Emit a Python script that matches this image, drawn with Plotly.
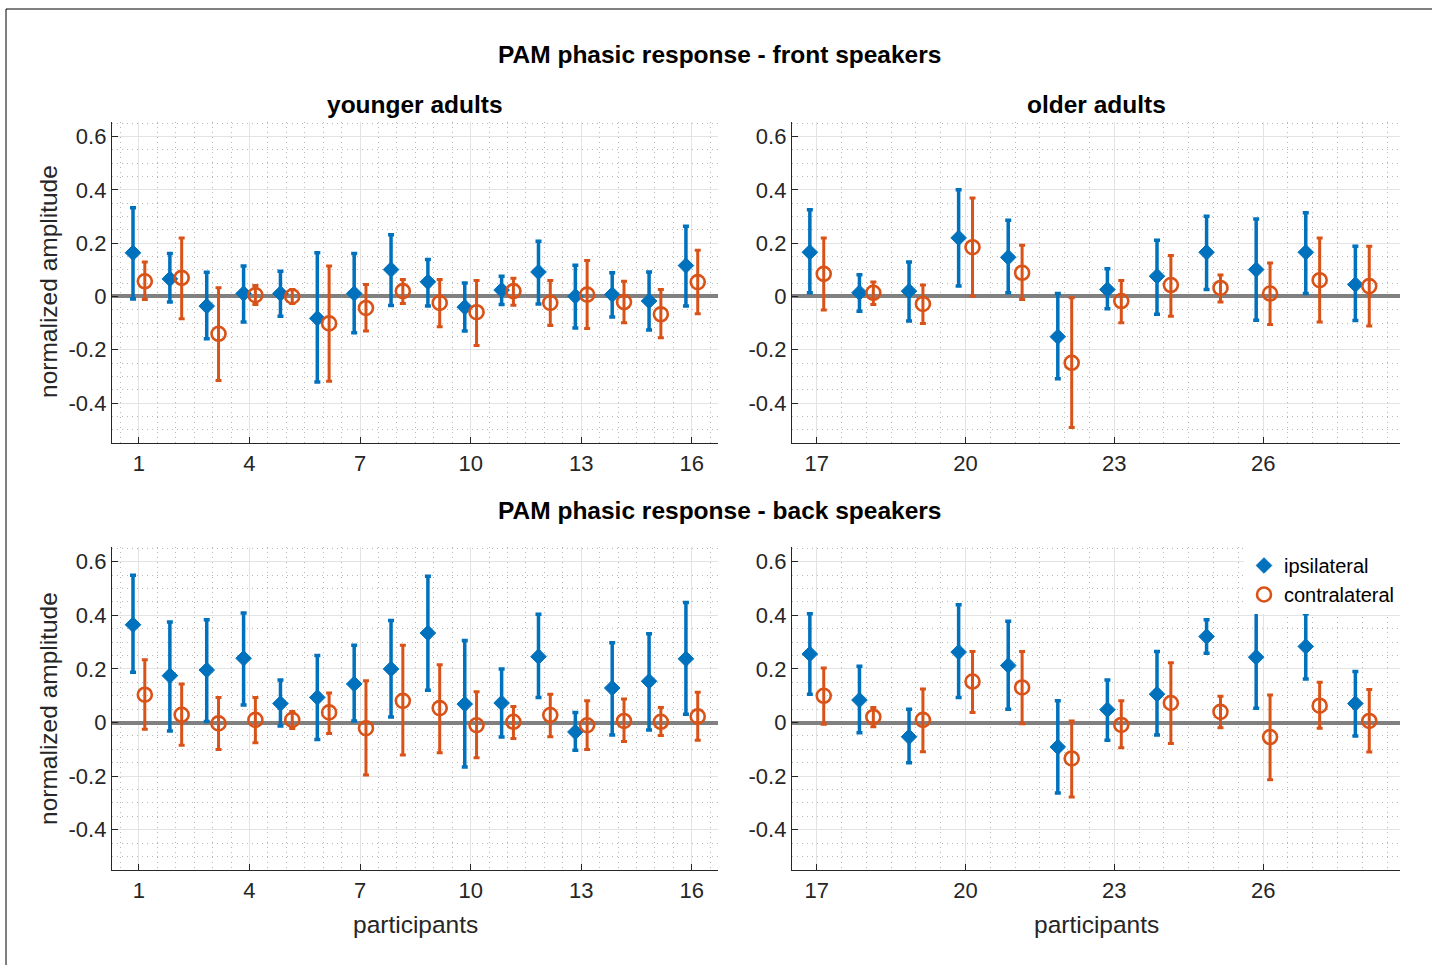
import plotly.graph_objects as go
import numpy as np

# ---------------- data ----------------
young_ids = list(range(1, 17))
old_ids = list(range(17, 29))

front_young_ipsi = [0.164, 0.066, -0.036, 0.011, 0.011, -0.082, 0.011, 0.101, 0.055, -0.040, 0.024, 0.092, 0.001, 0.007, -0.017, 0.116]
front_young_ipsi_hi = [0.333, 0.161, 0.091, 0.114, 0.095, 0.164, 0.161, 0.232, 0.139, 0.051, 0.076, 0.207, 0.117, 0.089, 0.092, 0.264]
front_young_ipsi_lo = [-0.009, -0.021, -0.159, -0.096, -0.074, -0.321, -0.136, -0.034, -0.036, -0.130, -0.030, -0.028, -0.118, -0.077, -0.126, -0.036]
front_young_contra = [0.057, 0.070, -0.140, 0.005, 0.000, -0.101, -0.043, 0.020, -0.024, -0.059, 0.020, -0.024, 0.007, -0.021, -0.067, 0.054]
front_young_contra_hi = [0.129, 0.220, 0.033, 0.041, 0.026, 0.114, 0.045, 0.064, 0.064, 0.060, 0.068, 0.060, 0.135, 0.057, 0.026, 0.174]
front_young_contra_lo = [-0.011, -0.084, -0.315, -0.030, -0.026, -0.318, -0.130, -0.026, -0.114, -0.184, -0.033, -0.109, -0.120, -0.099, -0.155, -0.065]

front_old_ipsi = [0.166, 0.014, 0.020, 0.220, 0.147, -0.151, 0.026, 0.076, 0.166, 0.101, 0.166, 0.045]
front_old_ipsi_hi = [0.326, 0.082, 0.129, 0.401, 0.286, 0.011, 0.104, 0.211, 0.301, 0.291, 0.314, 0.189]
front_old_ipsi_lo = [0.014, -0.055, -0.092, 0.039, 0.014, -0.309, -0.046, -0.067, 0.026, -0.089, 0.011, -0.090]
front_old_contra = [0.085, 0.014, -0.028, 0.185, 0.089, -0.249, -0.017, 0.043, 0.032, 0.011, 0.061, 0.039]
front_old_contra_hi = [0.220, 0.054, 0.043, 0.370, 0.192, -0.005, 0.060, 0.154, 0.081, 0.126, 0.220, 0.189]
front_old_contra_lo = [-0.051, -0.030, -0.101, 0.001, -0.011, -0.492, -0.099, -0.074, -0.021, -0.105, -0.096, -0.111]

back_young_ipsi = [0.365, 0.175, 0.196, 0.240, 0.071, 0.094, 0.144, 0.200, 0.334, 0.069, 0.073, 0.246, -0.035, 0.129, 0.154, 0.238]
back_young_ipsi_hi = [0.550, 0.375, 0.384, 0.409, 0.159, 0.250, 0.288, 0.381, 0.546, 0.306, 0.200, 0.404, 0.038, 0.298, 0.331, 0.448]
back_young_ipsi_lo = [0.188, -0.031, 0.004, 0.066, -0.013, -0.063, 0.006, 0.021, 0.121, -0.166, -0.054, 0.094, -0.103, -0.046, -0.028, 0.031]
back_young_contra = [0.104, 0.029, -0.003, 0.010, 0.010, 0.038, -0.021, 0.081, 0.054, -0.010, 0.003, 0.028, -0.010, 0.006, 0.003, 0.023]
back_young_contra_hi = [0.234, 0.144, 0.094, 0.094, 0.041, 0.110, 0.156, 0.288, 0.216, 0.115, 0.060, 0.106, 0.081, 0.088, 0.056, 0.113]
back_young_contra_lo = [-0.025, -0.085, -0.100, -0.075, -0.022, -0.041, -0.196, -0.121, -0.113, -0.131, -0.059, -0.053, -0.100, -0.071, -0.048, -0.066]

back_old_ipsi = [0.256, 0.084, -0.053, 0.263, 0.213, -0.091, 0.048, 0.106, 0.321, 0.244, 0.284, 0.071]
back_old_ipsi_hi = [0.406, 0.210, 0.050, 0.440, 0.378, 0.081, 0.159, 0.265, 0.384, 0.440, 0.406, 0.191]
back_old_ipsi_lo = [0.106, -0.038, -0.150, 0.094, 0.050, -0.263, -0.066, -0.046, 0.259, 0.053, 0.163, -0.050]
back_old_contra = [0.100, 0.021, 0.010, 0.153, 0.131, -0.134, -0.009, 0.073, 0.040, -0.054, 0.063, 0.006]
back_old_contra_hi = [0.204, 0.056, 0.125, 0.265, 0.265, 0.006, 0.081, 0.223, 0.098, 0.103, 0.150, 0.123]
back_old_contra_lo = [-0.006, -0.016, -0.109, 0.038, -0.004, -0.278, -0.094, -0.078, -0.019, -0.213, -0.021, -0.110]

young_tickvals = [1, 4, 7, 10, 13, 16]
old_tickvals = [17, 20, 23, 26]
y_tickvals = [-0.4, -0.2, 0, 0.2, 0.4, 0.6]
y_ticktext = ["-0.4", "-0.2", "0", "0.2", "0.4", "0.6"]

# ---------------- style ----------------
BLUE = "#0072BD"
ORANGE = "#D95319"
FONT = "Liberation Sans, Arial, Helvetica, sans-serif"
TXT = "#262626"
W, H = 1436, 965

fig = go.Figure()

panels = [
    ("x", "y", young_ids, front_young_ipsi, front_young_ipsi_hi, front_young_ipsi_lo,
     front_young_contra, front_young_contra_hi, front_young_contra_lo, 0.16),
    ("x2", "y2", old_ids, front_old_ipsi, front_old_ipsi_hi, front_old_ipsi_lo,
     front_old_contra, front_old_contra_hi, front_old_contra_lo, 0.14),
    ("x3", "y3", young_ids, back_young_ipsi, back_young_ipsi_hi, back_young_ipsi_lo,
     back_young_contra, back_young_contra_hi, back_young_contra_lo, 0.16),
    ("x4", "y4", old_ids, back_old_ipsi, back_old_ipsi_hi, back_old_ipsi_lo,
     back_old_contra, back_old_contra_hi, back_old_contra_lo, 0.14),
]

for k, (xa, ya, ids, im, ih, il, cm, ch, cl, off) in enumerate(panels):
    ids_a = np.array(ids, dtype=float)
    im_a, ih_a, il_a = np.array(im), np.array(ih), np.array(il)
    cm_a, ch_a, cl_a = np.array(cm), np.array(ch), np.array(cl)
    show = (k == 3)
    fig.add_trace(go.Scatter(
        x=ids_a - off, y=im_a, mode="markers", xaxis=xa, yaxis=ya,
        name="ipsilateral", showlegend=show,
        marker=dict(symbol="diamond", size=12, color=BLUE, line=dict(width=1, color=BLUE)),
        error_y=dict(type="data", symmetric=False, array=ih_a - im_a, arrayminus=im_a - il_a,
                     color=BLUE, thickness=3.5, width=3),
    ))
    fig.add_trace(go.Scatter(
        x=ids_a + off, y=cm_a, mode="markers", xaxis=xa, yaxis=ya,
        name="contralateral", showlegend=show,
        marker=dict(symbol="circle-open", size=14, color=ORANGE, line=dict(width=2.6, color=ORANGE)),
        error_y=dict(type="data", symmetric=False, array=ch_a - cm_a, arrayminus=cm_a - cl_a,
                     color=ORANGE, thickness=3, width=3),
    ))

xl = [112 / W, 718 / W]
xr = [792 / W, 1400 / W]
yt = [1 - 443 / H, 1 - 122 / H]
yb = [1 - 870 / H, 1 - 547 / H]

TICK_SIZE = 22
MINOR_DASH = "1px,4px"

def xaxis_cfg(dom, rng, tickvals, anchor):
    return dict(
        domain=dom, range=rng, anchor=anchor, tickmode="array", tickvals=tickvals,
        ticktext=[str(v) for v in tickvals],
        showline=True, linecolor=TXT, linewidth=1.3, mirror=False,
        ticks="inside", ticklen=6, tickcolor=TXT, tickwidth=1.3,
        showgrid=True, gridcolor="#e3e3e3", gridwidth=1.3, zeroline=False,
        tickfont=dict(family=FONT, size=TICK_SIZE, color=TXT),
        minor=dict(dtick=0.5, tick0=0, showgrid=True, gridcolor="#b8b8b8", griddash=MINOR_DASH, gridwidth=1),
    )

def yaxis_cfg(dom, anchor):
    return dict(
        domain=dom, range=[-0.55, 0.655], anchor=anchor, tickmode="array",
        tickvals=y_tickvals, ticktext=y_ticktext,
        showline=True, linecolor=TXT, linewidth=1.3, mirror=False,
        ticks="inside", ticklen=6, tickcolor=TXT, tickwidth=1.3,
        showgrid=True, gridcolor="#e3e3e3", gridwidth=1.3,
        zeroline=True, zerolinecolor="#808080", zerolinewidth=4,
        tickfont=dict(family=FONT, size=TICK_SIZE, color=TXT),
        minor=dict(dtick=0.05, tick0=0, showgrid=True, gridcolor="#b8b8b8", griddash=MINOR_DASH, gridwidth=1),
    )

annotations = []
def add_text(text, x, y, size, bold=False, angle=0):
    annotations.append(dict(
        text=f"<b>{text}</b>" if bold else text, x=x / W, y=1 - y / H, xref="paper", yref="paper",
        showarrow=False, xanchor="center", yanchor="middle", textangle=angle,
        font=dict(family=FONT, size=size, color="#000000" if bold else TXT),
    ))

add_text("PAM phasic response - front speakers", 719, 55, 24.5, bold=True)
add_text("younger adults", 415, 104, 24.5, bold=True)
add_text("older adults", 1096, 104, 24.5, bold=True)
add_text("PAM phasic response - back speakers", 719, 510, 24.5, bold=True)
add_text("participants", 415, 924, 24.5)
add_text("participants", 1096, 924, 24.5)
add_text("normalized amplitude", 48, 282, 24.5, angle=-90)
add_text("normalized amplitude", 48, 709, 24.5, angle=-90)

fig.update_layout(
    width=W, height=H,
    margin=dict(l=0, r=0, t=0, b=0),
    paper_bgcolor="white", plot_bgcolor="white",
    xaxis=xaxis_cfg(xl, [0.27, 16.71], young_tickvals, "y"),
    yaxis=yaxis_cfg(yt, "x"),
    xaxis2=xaxis_cfg(xr, [16.5, 28.76], old_tickvals, "y2"),
    yaxis2=yaxis_cfg(yt, "x2"),
    xaxis3=xaxis_cfg(xl, [0.27, 16.71], young_tickvals, "y3"),
    yaxis3=yaxis_cfg(yb, "x3"),
    xaxis4=xaxis_cfg(xr, [16.5, 28.76], old_tickvals, "y4"),
    yaxis4=yaxis_cfg(yb, "x4"),
    annotations=annotations,
    showlegend=True,
    legend=dict(
        x=1400 / W, y=1 - 546 / H, xanchor="right", yanchor="top",
        bgcolor="white", borderwidth=0, font=dict(family=FONT, size=20, color="#000000"),
        tracegroupgap=0, itemwidth=30,
    ),
    shapes=[
        dict(type="line", xref="paper", yref="paper", x0=6 / W, x1=1432 / W, y0=1 - 9 / H, y1=1 - 9 / H,
             line=dict(color="#000000", width=1)),
        dict(type="line", xref="paper", yref="paper", x0=6 / W, x1=6 / W, y0=0, y1=1 - 9 / H,
             line=dict(color="#000000", width=1)),
    ],
)

fig.write_html(
    "out.html",
    config={"displayModeBar": False},
    post_script="document.body.style.margin='0';document.body.style.overflow='hidden';",
)
